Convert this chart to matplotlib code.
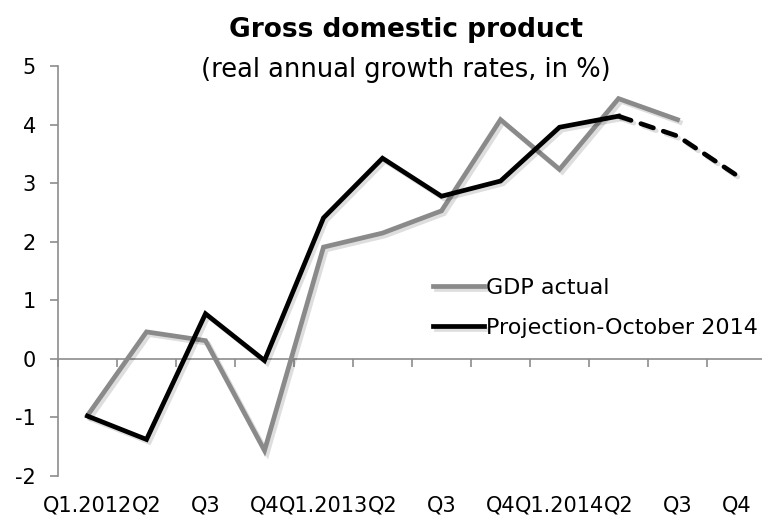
import numpy as np
import matplotlib
matplotlib.use("Agg")
import matplotlib.pyplot as plt
import matplotlib.patheffects as pe

# Quarterly real GDP growth, % y/y
quarters = ["Q1.2012", "Q2", "Q3", "Q4", "Q1.2013", "Q2", "Q3", "Q4",
            "Q1.2014", "Q2", "Q3", "Q4"]
gdp_actual = [-0.97, 0.46, 0.31, -1.57, 1.91, 2.15, 2.53, 4.09,
              3.24, 4.45, 4.09, np.nan]
projection = [-0.98, -1.38, 0.77, -0.03, 2.41, 3.43, 2.78, 3.04,
              3.96, 4.15, 3.81, 3.14]
last_actual = 9  # projection is dashed after this quarter

GRAY = "#8a8a8a"
AXIS_GRAY = "#8c8c8c"

fig = plt.figure(figsize=(7.62, 5.22), dpi=100)
ax = fig.add_axes([58 / 762, 0.0887, 708 / 762, 0.784])

x = np.arange(len(quarters))
shadow = [pe.SimpleLineShadow(offset=(2, -2), shadow_color="black", alpha=0.13),
          pe.Normal()]

ax.plot(x, gdp_actual, color=GRAY, lw=3.4, solid_joinstyle="miter",
        label="GDP actual", path_effects=shadow, zorder=3)
ax.plot(x[:last_actual + 1], projection[:last_actual + 1], color="black", lw=3.4,
        solid_joinstyle="miter", label="Projection-October 2014",
        path_effects=shadow, zorder=4)
ax.plot(x[last_actual:], projection[last_actual:], color="black", lw=3.4,
        linestyle=(0, (2.8, 2.2)), dash_capstyle="round",
        path_effects=shadow, zorder=4)

ax.set_xlim(-0.5, len(quarters) - 0.5)
ax.set_ylim(-2, 5)
ax.set_yticks(range(-2, 6))
ax.set_yticklabels([str(v) for v in range(-2, 6)])

for side in ("top", "right"):
    ax.spines[side].set_visible(False)
ax.spines["left"].set_color(AXIS_GRAY)
ax.spines["bottom"].set_color(AXIS_GRAY)
ax.spines["bottom"].set_position(("data", 0))
ax.spines["left"].set_linewidth(1.2)
ax.spines["bottom"].set_linewidth(1.2)

# tick marks on the zero line at category boundaries
ax.set_xticks(np.arange(-0.5, len(quarters), 1.0))
ax.set_xticklabels([])
ax.tick_params(axis="x", direction="out", length=6, width=1.2, color=AXIS_GRAY)
ax.tick_params(axis="y", direction="out", length=6, width=1.2, color=AXIS_GRAY,
               labelsize=15, pad=10)

# category labels sit below the plot area
sec = ax.secondary_xaxis("bottom")
sec.set_xticks(x)
sec.set_xticklabels(quarters)
sec.tick_params(length=0, labelsize=15, pad=14)
sec.spines["bottom"].set_visible(False)

fig.text(0.533, 1 - 37 / 522, "Gross domestic product", ha="center",
         va="baseline", fontsize=19, fontweight="bold")
fig.text(0.533, 1 - 77 / 522, "(real annual growth rates, in %)", ha="center",
         va="baseline", fontsize=18.5)

ax.legend(loc="upper left", bbox_to_anchor=(366 / 708, 0.505), frameon=False,
          fontsize=16, handlelength=2.3, handletextpad=0.1,
          labelspacing=0.9, borderaxespad=0)

fig.savefig("out.png", dpi=100)
